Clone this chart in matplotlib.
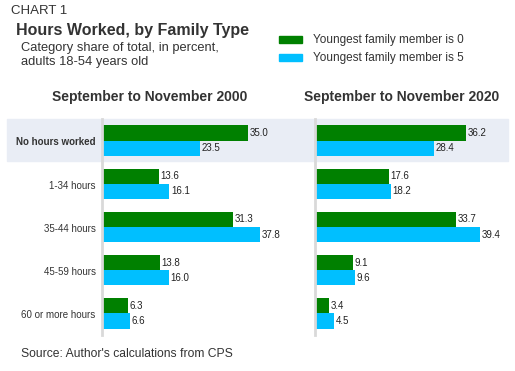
import matplotlib.pyplot as plt
from matplotlib.patches import Rectangle
from matplotlib import font_manager

plt.rcParams['font.family'] = ['Liberation Sans', 'DejaVu Sans']

categories = ['No hours worked', '1-34 hours', '35-44 hours', '45-59 hours', '60 or more hours']
age0_2000 = [35.0, 13.6, 31.3, 13.8, 6.3]
age5_2000 = [23.5, 16.1, 37.8, 16.0, 6.6]
age0_2020 = [36.2, 17.6, 33.7, 9.1, 3.4]
age5_2020 = [28.4, 18.2, 39.4, 9.6, 4.5]
panel_titles = ['September to November 2000', 'September to November 2020']
series_names = ['Youngest family member is 0', 'Youngest family member is 5']

GREEN = '#008000'
BLUE = '#00BFFF'
TXT = '#333333'

names = {f.name for f in font_manager.fontManager.ttflist}
narrow = 'Liberation Sans Narrow' if 'Liberation Sans Narrow' in names else 'Liberation Sans'

W, H = 515, 371
fig = plt.figure(figsize=(W / 100, H / 100), dpi=100)

def fx(px):
    return px / W

def fy(py):
    return 1 - py / H

# background axes for the highlight band of the first row
bg = fig.add_axes([0, 0, 1, 1], zorder=-1)
bg.set_xlim(0, W)
bg.set_ylim(H, 0)
bg.axis('off')
bg.add_patch(Rectangle((7, 119), 501, 42, color='#E9EDF5'))

ax1 = fig.add_axes([fx(102), fy(335), fx(188), fy(119) - fy(335)])
ax2 = fig.add_axes([fx(315), fy(335), fx(188), fy(119) - fy(335)])

bh = 0.35
ypos = list(range(len(categories)))
for ax, a0, a5 in [(ax1, age0_2000, age5_2000), (ax2, age0_2020, age5_2020)]:
    ax.patch.set_alpha(0)
    ax.barh([y - bh / 2 for y in ypos], a0, height=bh, color=GREEN)
    ax.barh([y + bh / 2 for y in ypos], a5, height=bh, color=BLUE)
    for y, v0, v5 in zip(ypos, a0, a5):
        ax.text(v0 + 0.4, y - bh / 2, f'{v0:.1f}', va='center', ha='left',
                fontsize=7, color='#222222', family=[narrow, 'DejaVu Sans'])
        ax.text(v5 + 0.4, y + bh / 2, f'{v5:.1f}', va='center', ha='left',
                fontsize=7, color='#222222', family=[narrow, 'DejaVu Sans'])
    ax.set_xlim(0, 45)
    ax.set_ylim(4.5, -0.5)
    for s in ['top', 'right', 'bottom']:
        ax.spines[s].set_visible(False)
    ax.spines['left'].set_color('#D9D9D9')
    ax.spines['left'].set_linewidth(2)
    ax.set_xticks([])
    ax.set_yticks([])

for y, cat in zip(ypos, categories):
    ax1.text(-1.5, y + 0.04, cat, ha='right', va='center', fontsize=7, color=TXT,
             fontweight='bold' if y == 0 else 'normal')

fig.text(fx(150), fy(97), panel_titles[0], ha='center', va='center',
         fontsize=10, fontweight='bold', color=TXT)
fig.text(fx(402), fy(97), panel_titles[1], ha='center', va='center',
         fontsize=10, fontweight='bold', color=TXT)

fig.text(fx(11), fy(11), 'CHART 1', ha='left', va='center', fontsize=9.5, color=TXT)
fig.text(fx(16), fy(30), 'Hours Worked, by Family Type', ha='left', va='center',
         fontsize=11.5, fontweight='bold', color=TXT)
fig.text(fx(21), fy(48), 'Category share of total, in percent,', ha='left', va='center',
         fontsize=9.3, color=TXT)
fig.text(fx(21), fy(62), 'adults 18-54 years old', ha='left', va='center',
         fontsize=9.3, color=TXT)

for py, col, name in [(39, GREEN, series_names[0]), (57, BLUE, series_names[1])]:
    bg.add_patch(Rectangle((279, py - 3.5), 23, 7, color=col))
    fig.text(fx(313), fy(py + 1), name, ha='left', va='center', fontsize=8.5, color=TXT)

fig.text(fx(21), fy(354), "Source: Author's calculations from CPS", ha='left', va='center',
         fontsize=8.7, color=TXT)

fig.savefig('out.png', dpi=100)
